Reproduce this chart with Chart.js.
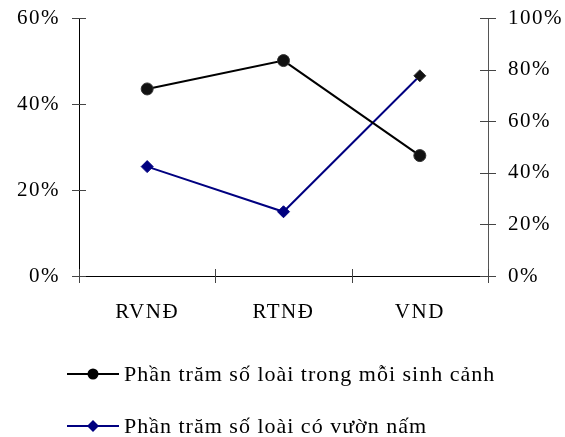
<!DOCTYPE html>
<html>
<head>
<meta charset="utf-8">
<script src="https://cdn.jsdelivr.net/npm/chart.js@4/dist/chart.umd.min.js"></script>
<style>
  html, body { margin: 0; padding: 0; background: #fff; }
  #wrap { width: 565px; height: 437px; }
</style>
</head>
<body>
<div id="wrap"><canvas id="myChart" width="565" height="437"></canvas></div>
<script>
// categories and series
const habitats = ['RVNĐ', 'RTNĐ', 'VND'];
const speciesShare = [43.5, 50.1, 28.0];       // left axis, 0-60%
const gardenShare = [42.4, 24.9, 77.6];        // right axis, 0-100%
const leftTicks = [0, 20, 40, 60];
const rightTicks = [0, 20, 40, 60, 80, 100];
const seriesNames = [
  'Phần trăm số loài trong mỗi sinh cảnh',
  'Phần trăm số loài có vườn nấm'
];

const FONT = 'Liberation Serif, Times New Roman, serif';

// wider lettering like the original
const spacing = {
  id: 'spacing',
  beforeDraw(chart) { chart.ctx.letterSpacing = '1.5px'; }
};

// tick marks that cross the axis lines + the vertical legend under the chart
const crossTicks = {
  id: 'crossTicks',
  afterDraw(chart) {
    const ctx = chart.ctx;
    const area = chart.chartArea;
    const yl = chart.scales.y, yr = chart.scales.y2;
    ctx.save();
    ctx.lineWidth = 1;
    ctx.strokeStyle = '#444';
    leftTicks.forEach((v) => {
      const py = Math.round(yl.getPixelForValue(v)) + 0.5;
      ctx.beginPath(); ctx.moveTo(area.left - 7, py); ctx.lineTo(area.left + 7, py); ctx.stroke();
    });
    rightTicks.forEach((v) => {
      const py = Math.round(yr.getPixelForValue(v)) + 0.5;
      ctx.beginPath(); ctx.moveTo(area.right - 8, py); ctx.lineTo(area.right + 8, py); ctx.stroke();
    });
    const step = (area.right - area.left) / habitats.length;
    for (let i = 0; i <= habitats.length; i++) {
      const px = Math.round(area.left + i * step) + 0.5;
      ctx.beginPath(); ctx.moveTo(px, area.bottom - 7); ctx.lineTo(px, area.bottom + 7); ctx.stroke();
    }

    // legend
    const rows = [374, 426];
    ctx.letterSpacing = '1px';
    chart.data.datasets.forEach((ds, i) => {
      const y = rows[i];
      ctx.strokeStyle = ds.borderColor;
      ctx.lineWidth = 2;
      ctx.beginPath(); ctx.moveTo(67, y); ctx.lineTo(119, y); ctx.stroke();
      ctx.fillStyle = ds.borderColor;
      ctx.beginPath();
      if (ds.pointStyle === 'circle') ctx.arc(93, y, 5.5, 0, Math.PI * 2);
      else { ctx.moveTo(93, y - 6); ctx.lineTo(99, y); ctx.lineTo(93, y + 6); ctx.lineTo(87, y); ctx.closePath(); }
      ctx.fill();
      ctx.fillStyle = '#000';
      ctx.font = '22px ' + FONT;
      ctx.textBaseline = 'middle';
      ctx.textAlign = 'left';
      ctx.fillText(seriesNames[i], 124, y + 1);
    });
    ctx.restore();
  }
};

const data = {
  labels: habitats,
  datasets: [{
    label: seriesNames[0],
    data: speciesShare,
    yAxisID: 'y',
    borderColor: '#000',
    backgroundColor: '#000',
    borderWidth: 2,
    pointStyle: 'circle',
    pointRadius: 6,
    pointBackgroundColor: '#111',
    pointBorderColor: '#333',
    pointBorderWidth: 1
  }, {
    label: seriesNames[1],
    data: gardenShare,
    yAxisID: 'y2',
    borderColor: '#000080',
    backgroundColor: '#000080',
    borderWidth: 2,
    pointStyle: 'rectRot',
    pointRadius: 6,
    pointBackgroundColor: ['#000080', '#000080', '#111'],
    pointBorderColor: ['#000080', '#000080', '#333'],
    pointBorderWidth: 1
  }]
};

const config = {
  type: 'line',
  data: data,
  plugins: [spacing, crossTicks],
  options: {
    responsive: false,
    animation: false,
    layout: { padding: { top: 18, left: 0, right: 0, bottom: 0 } },
    plugins: {
      legend: { display: false },
      tooltip: { enabled: false }
    },
    scales: {
      x: {
        offset: true,
        grid: { offset: true, drawOnChartArea: false, drawTicks: false },
        border: { color: '#000', width: 1 },
        ticks: { color: '#000', padding: 24, font: { family: FONT, size: 21 } },
        afterFit: (s) => { s.height = 437 - 276; s.paddingLeft = 0; s.paddingRight = 0; }
      },
      y: {
        position: 'left',
        min: 0, max: 60,
        grid: { drawOnChartArea: false, drawTicks: false },
        border: { color: '#000', width: 1 },
        ticks: {
          stepSize: 20, padding: 19, color: '#000',
          font: { family: FONT, size: 21 },
          callback: (v) => v + '%'
        },
        afterFit: (s) => { s.width = 79; s.paddingTop = 0; s.paddingBottom = 0; }
      },
      y2: {
        position: 'right',
        min: 0, max: 100,
        grid: { drawOnChartArea: false, drawTicks: false },
        border: { color: '#555', width: 1 },
        ticks: {
          stepSize: 20, padding: 20, color: '#000',
          font: { family: FONT, size: 21 },
          callback: (v) => v + '%'
        },
        afterFit: (s) => { s.width = 565 - 488; s.paddingTop = 0; s.paddingBottom = 0; }
      }
    }
  }
};

const myChart = new Chart(document.getElementById('myChart'), config);
</script>
</body>
</html>
